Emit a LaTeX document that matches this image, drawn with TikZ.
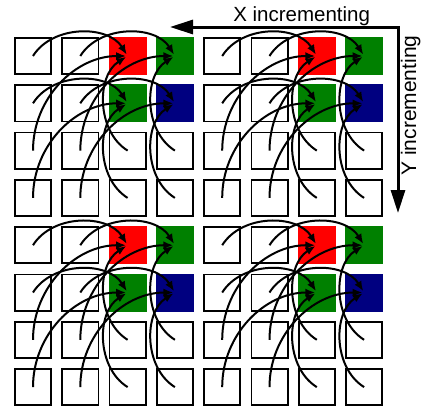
\documentclass[tikz,border=0pt]{standalone}
\usepackage{fontspec}
\setmainfont{Liberation Sans}
\usetikzlibrary{arrows.meta}
\definecolor{cred}{RGB}{255,0,0}
\definecolor{cgreen}{RGB}{0,128,0}
\definecolor{cblue}{RGB}{0,0,128}
\tikzset{
  cell/.style={draw=black,line width=1.8pt,minimum size=36.2pt,inner sep=0pt,outer sep=0pt,fill=white},
  redcell/.style={cell,draw=cred,fill=cred},
  greencell/.style={cell,draw=cgreen,fill=cgreen},
  bluecell/.style={cell,draw=cblue,fill=cblue},
  arc/.style={line width=2pt,shorten >=1.5pt,-{Latex[length=10pt,width=8pt]}},
  bigarrow/.style={line width=3pt,line join=miter,{Triangle[length=23pt,width=14pt]}-{Triangle[length=23pt,width=14pt]}},
  lab/.style={inner sep=0pt,anchor=base}
}
\begin{document}
\begin{tikzpicture}[x=1pt,y=-1pt]
\useasboundingbox (0,0) rectangle (421,408);
% cells
\foreach \bx in {0,4}{
  \foreach \by in {0,4}{
    \foreach \i/\j/\st in {0/0/cell,1/0/cell,2/0/redcell,3/0/greencell,
                          0/1/cell,1/1/cell,2/1/greencell,3/1/bluecell,
                          0/2/cell,1/2/cell,2/2/cell,3/2/cell,
                          0/3/cell,1/3/cell,2/3/cell,3/3/cell}{
      \pgfmathtruncatemacro\ci{\bx+\i}
      \pgfmathtruncatemacro\cj{\by+\j}
      \node[\st] (c-\ci-\cj) at ({33+47.3*\ci},{56+47.3*\cj}) {};
    }
  }
}
% arcs
\foreach \bx in {0,4}{
  \foreach \by in {0,4}{
    \pgfmathtruncatemacro\xa{\bx}
    \pgfmathtruncatemacro\xb{\bx+1}
    \pgfmathtruncatemacro\xc{\bx+2}
    \pgfmathtruncatemacro\xd{\bx+3}
    \pgfmathtruncatemacro\ya{\by}
    \pgfmathtruncatemacro\yb{\by+1}
    \pgfmathtruncatemacro\yc{\by+2}
    \pgfmathtruncatemacro\yd{\by+3}
    % horizontal
    \draw[arc] (c-\xa-\ya.center) to[bend left=58] (c-\xc-\ya.center);
    \draw[arc] (c-\xb-\ya.center) to[bend left=58] (c-\xd-\ya.center);
    \draw[arc] (c-\xa-\yb.center) to[bend left=58] (c-\xc-\yb.center);
    \draw[arc] (c-\xb-\yb.center) to[bend left=58] (c-\xd-\yb.center);
    % vertical
    \draw[arc] (c-\xc-\yc.center) to[bend left=58] (c-\xc-\ya.center);
    \draw[arc] (c-\xd-\yc.center) to[bend left=58] (c-\xd-\ya.center);
    \draw[arc] (c-\xc-\yd.center) to[bend left=58] (c-\xc-\yb.center);
    \draw[arc] (c-\xd-\yd.center) to[bend left=58] (c-\xd-\yb.center);
    % diagonal
    \draw[arc] (c-\xa-\yc.center) to[bend left=45] (c-\xc-\ya.center);
    \draw[arc] (c-\xb-\yc.center) to[bend left=45] (c-\xd-\ya.center);
    \draw[arc] (c-\xa-\yd.center) to[bend left=45] (c-\xc-\yb.center);
    \draw[arc] (c-\xb-\yd.center) to[bend left=45] (c-\xd-\yb.center);
  }
}
% direction arrows
\coordinate (xtip) at (170,27);
\coordinate (ytip) at (398,213);
\draw[bigarrow] (xtip) -| (ytip);
\node[lab,font=\fontsize{20.5}{24}\selectfont] (xlab) at (301.7,21.7) {X incrementing};
\node[lab,rotate=90,font=\fontsize{21}{25}\selectfont] (ylab) at (416,105.5) {Y incrementing};
\end{tikzpicture}
\end{document}
